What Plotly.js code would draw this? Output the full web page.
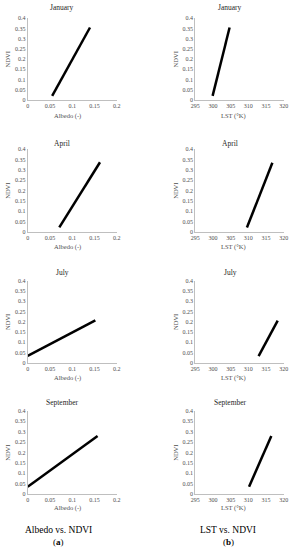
<!DOCTYPE html>
<html>
<head>
<meta charset="utf-8">
<script src="https://cdn.plot.ly/plotly-3.0.1.min.js"></script>
<style>html,body{margin:0;padding:0;background:#fff;}#chart{width:294px;height:550px;}</style>
</head>
<body>
<div id="chart"></div>
<script>
// ---- Data ----
const months = ["January", "April", "July", "September"];
const albedoJan = [0.055, 0.140];  const ndviAlbJan = [0.020, 0.355];
const albedoApr = [0.071, 0.1625]; const ndviAlbApr = [0.021, 0.337];
const albedoJul = [0.000, 0.152];  const ndviAlbJul = [0.033, 0.206];
const albedoSep = [0.000, 0.157];  const ndviAlbSep = [0.035, 0.280];
const lstJan = [299.9, 304.7]; const ndviLstJan = [0.020, 0.355];
const lstApr = [309.6, 316.8]; const ndviLstApr = [0.020, 0.335];
const lstJul = [312.9, 318.3]; const ndviLstJul = [0.032, 0.205];
const lstSep = [310.2, 316.5]; const ndviLstSep = [0.035, 0.280];
const albedoTitle = "Albedo (-)";
const lstTitle = "LST (°K)";
const yTitle = "NDVI";
const panelLabels = ["Albedo vs. NDVI", "LST vs. NDVI"];
const subLabels = ["(<b>a</b>)", "(<b>b</b>)"];

const albedoX = [albedoJan, albedoApr, albedoJul, albedoSep];
const albedoY = [ndviAlbJan, ndviAlbApr, ndviAlbJul, ndviAlbSep];
const lstX = [lstJan, lstApr, lstJul, lstSep];
const lstY = [ndviLstJan, ndviLstApr, ndviLstJul, ndviLstSep];

// ---- Layout geometry (pixels) ----
const W = 294, H = 550;
const colX = [[27.7, 116.7], [195.3, 283.7]];
const rowY = [[18.3, 100], [149.3, 231.7], [280.7, 362.7], [411, 494]];
const titleY = [8, 143.3, 272.7, 402.3];
const xTitleY = [116, 247.3, 377.7, 508.3];
const titleX = [62, 230];
const xTitleX = [67, 233];
const yTitleX = [7.3, 175.3];

const FONT = "Liberation Serif, Times New Roman, serif";
const px = x => x / W;
const py = y => 1 - y / H;

const traces = [];
const layout = {
  width: W, height: H,
  margin: {l: 0, r: 0, t: 0, b: 0},
  paper_bgcolor: "#ffffff", plot_bgcolor: "#ffffff",
  showlegend: false,
  font: {family: FONT, size: 6, color: "#595959"},
  annotations: []
};

let n = 0;
for (let r = 0; r < 4; r++) {
  for (let c = 0; c < 2; c++) {
    n++;
    const xa = n === 1 ? "xaxis" : "xaxis" + n;
    const ya = n === 1 ? "yaxis" : "yaxis" + n;
    const xr = n === 1 ? "x" : "x" + n;
    const yr = n === 1 ? "y" : "y" + n;
    traces.push({
      type: "scatter", mode: "lines",
      x: c === 0 ? albedoX[r] : lstX[r],
      y: c === 0 ? albedoY[r] : lstY[r],
      xaxis: xr, yaxis: yr,
      line: {color: "#000000", width: 2.5},
      hoverinfo: "skip"
    });
    layout[xa] = {
      domain: [px(colX[c][0]), px(colX[c][1])],
      anchor: yr,
      range: c === 0 ? [0, 0.2] : [295, 320],
      dtick: c === 0 ? 0.05 : 5,
      tick0: c === 0 ? 0 : 295,
      showgrid: false, zeroline: false,
      showline: true, linecolor: "#bfbfbf", linewidth: 1,
      ticks: "", ticklen: 0,
      tickfont: {family: FONT, size: 6, color: "#4d4d4d"},
      fixedrange: true
    };
    layout[ya] = {
      domain: [py(rowY[r][1]), py(rowY[r][0])],
      anchor: xr,
      range: [0, 0.4],
      dtick: 0.05, tick0: 0,
      showgrid: false, zeroline: false,
      showline: true, linecolor: "#bfbfbf", linewidth: 1,
      ticks: "", ticklen: 0,
      tickfont: {family: FONT, size: 6, color: "#4d4d4d"},
      fixedrange: true
    };
    layout.annotations.push({
      text: months[r], xref: "paper", yref: "paper",
      x: px(titleX[c]), y: py(titleY[r]), xanchor: "center", yanchor: "middle",
      showarrow: false, font: {family: FONT, size: 7.5, color: "#262626"}
    });
    layout.annotations.push({
      text: c === 0 ? albedoTitle : lstTitle, xref: "paper", yref: "paper",
      x: px(xTitleX[c]), y: py(xTitleY[r]), xanchor: "center", yanchor: "middle",
      showarrow: false, font: {family: FONT, size: 6.5, color: "#4d4d4d"}
    });
    layout.annotations.push({
      text: yTitle, xref: "paper", yref: "paper", textangle: -90,
      x: px(yTitleX[c]), y: py((rowY[r][0] + rowY[r][1]) / 2),
      xanchor: "center", yanchor: "middle",
      showarrow: false, font: {family: FONT, size: 6.5, color: "#4d4d4d"}
    });
  }
}

const labelX = [58, 228];
for (let c = 0; c < 2; c++) {
  layout.annotations.push({
    text: panelLabels[c], xref: "paper", yref: "paper",
    x: px(labelX[c]), y: py(530), xanchor: "center", yanchor: "middle",
    showarrow: false, font: {family: FONT, size: 9.5, color: "#000000"}
  });
  layout.annotations.push({
    text: subLabels[c], xref: "paper", yref: "paper",
    x: px(labelX[c]), y: py(541.5), xanchor: "center", yanchor: "middle",
    showarrow: false, font: {family: FONT, size: 9, color: "#000000"}
  });
}

Plotly.newPlot("chart", traces, layout, {staticPlot: true, displayModeBar: false});
</script>
</body>
</html>
